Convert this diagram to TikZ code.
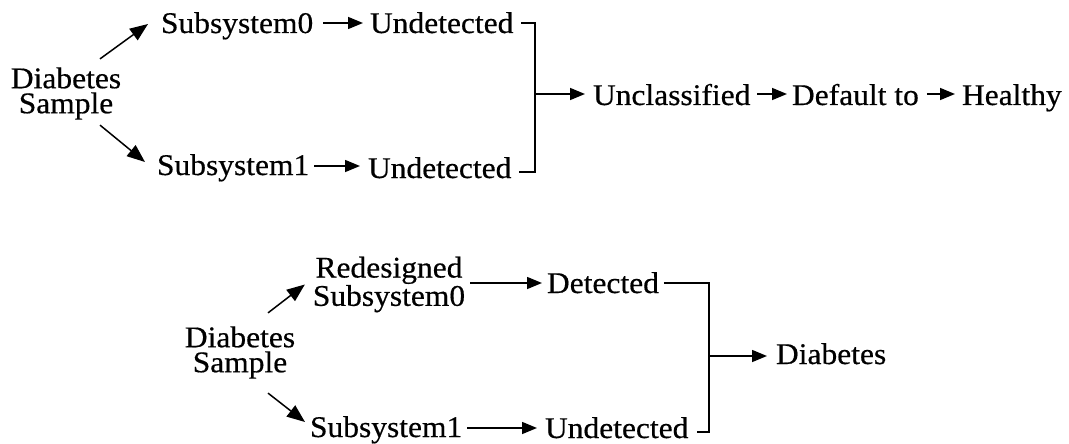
\documentclass[tikz,border=0pt]{standalone}
\usepackage{fontspec}
\setmainfont[FakeStretch=1.05,FakeBold=0.5]{Liberation Serif}
\usetikzlibrary{arrows.meta,calc}
\begin{document}
\begin{tikzpicture}[x=1pt,y=-1pt,
  lbl/.style={inner sep=0pt, outer sep=0pt, font=\fontsize{30}{25}\selectfont},
  arr/.style={line width=1.5pt, -{Triangle[length=15pt,width=12pt]}},
  slant/.style={line width=1.5pt, -{Triangle[length=18pt,width=14pt]}},
  ln/.style={line width=1.5pt}]
\useasboundingbox (0,0) rectangle (1069,444);

% ---- original system: both subsystems miss the sample ----
\node[lbl, align=center] (ds) at (66,93.5) {Diabetes\\Sample};
\node[lbl, anchor=base west] (s0) at (161,33) {Subsystem0};
\node[lbl, anchor=base west] (u0) at (370,33) {Undetected};
\node[lbl, anchor=base west] (s1) at (157,175) {Subsystem1};
\node[lbl, anchor=base west] (u1) at (368,178) {Undetected};
\coordinate (j1) at (535,94);
\node[lbl, anchor=base west] (uc) at (593,105) {Unclassified};
\node[lbl, anchor=base west] (df) at (792,105) {Default to};
\node[lbl, anchor=base west] (hl) at (962,105) {Healthy};

\draw[slant] ($(ds.north)+(34,-8.5)$) -- ($(s0.base west)+(-13,-9)$);
\draw[slant] ($(ds.south)+(34,5.5)$) -- ($(s1.base west)+(-12,-13)$);
\draw[arr] ($(s0.base east)+(10,-10)$) -- ($(u0.base west)+(-7,-10)$);
\draw[arr] ($(s1.base east)+(5,-9)$) -- ($(s1.base east -| u1.west)+(-8,-9)$);
\draw[ln] ($(u0.base east)+(8,-10)$) -| (j1) |- ($(u1.base east)+(8,-6)$);
\draw[arr] (j1) -- ($(j1 -| uc.west)+(-8,0)$);
\draw[arr] ($(uc.base east)+(7,-11)$) -- ($(df.base west)+(-5,-11)$);
\draw[arr] ($(df.base east)+(8,-11)$) -- ($(hl.base west)+(-7,-11)$);

% ---- redesigned system: subsystem 0 now detects the sample ----
\node[lbl, align=center] (ds2) at (240,352.5) {Diabetes\\Sample};
\node[lbl, align=center, font=\fontsize{30}{27}\selectfont] (rs) at (389,284.5) {Redesigned\\Subsystem0};
\node[lbl, anchor=base west] (det) at (547,293) {Detected};
\node[lbl, anchor=base west] (s1b) at (310,437) {Subsystem1};
\node[lbl, anchor=base west] (u1b) at (545,438) {Undetected};
\coordinate (j2) at (709,356);
\node[lbl, anchor=base west] (dia) at (776,364) {Diabetes};

\draw[slant] ($(ds2.north)+(28,-13.5)$) -- ($(rs.west)+(-8,0)$);
\draw[slant] ($(ds2.south)+(28,14.5)$) -- ($(s1b.base west)+(-5,-15)$);
\draw[arr] ($(rs.east |- det.base)+(5,-10)$) -- ($(det.base west)+(-5,-10)$);
\draw[arr] ($(s1b.base east)+(5,-9)$) -- ($(s1b.base east -| u1b.west)+(-8,-9)$);
\draw[ln] ($(det.base east)+(5,-10)$) -| (j2) |- ($(u1b.base east)+(9,-6)$);
\draw[arr] (j2) -- ($(j2 -| dia.west)+(-9,0)$);
\end{tikzpicture}
\end{document}
